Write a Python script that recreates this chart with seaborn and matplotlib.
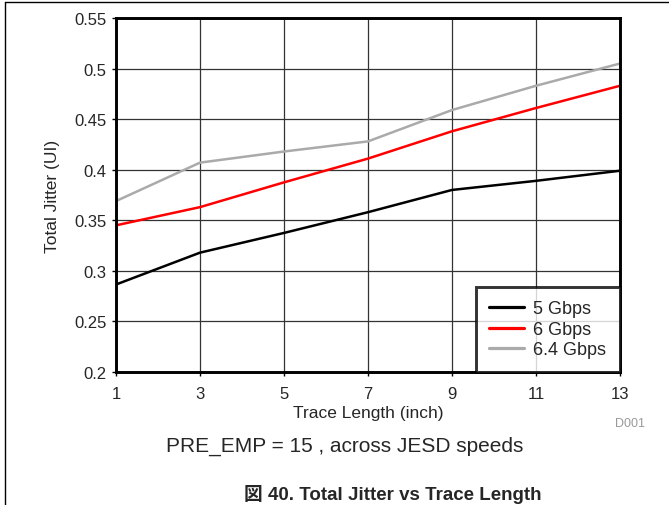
import pandas as pd
import seaborn as sns
import matplotlib.pyplot as plt
from matplotlib.lines import Line2D

# valores
trace_len = [1, 3, 5, 7, 9, 11, 13]
jitter_5g = [0.2865, 0.318, 0.3375, 0.358, 0.380, 0.389, 0.399]
jitter_6g = [0.345, 0.363, 0.3875, 0.411, 0.438, 0.461, 0.483]
jitter_64g = [0.369, 0.407, 0.418, 0.428, 0.459, 0.483, 0.505]
series = ['5 Gbps', '6 Gbps', '6.4 Gbps']
colors = ['#000000', '#ff0000', '#aaaaaa']
x_ticks = [1, 3, 5, 7, 9, 11, 13]
y_ticks = [0.2, 0.25, 0.3, 0.35, 0.4, 0.45, 0.5, 0.55]
y_ticklabels = ['0.2', '0.25', '0.3', '0.35', '0.4', '0.45', '0.5', '0.55']

df = pd.DataFrame({
    'trace': trace_len * 3,
    'jitter': jitter_5g + jitter_6g + jitter_64g,
    'speed': [s for s in series for _ in trace_len],
})

sns.set_style('white')
plt.rcParams['font.family'] = ['Liberation Sans', 'Noto Sans CJK JP', 'DejaVu Sans']

fig = plt.figure(figsize=(6.69, 5.06), dpi=100)
ax = fig.add_axes([116 / 669, 1 - 373 / 506, 504 / 669, 354 / 506])

sns.lineplot(data=df, x='trace', y='jitter', hue='speed', palette=colors,
             linewidth=1.8, ax=ax, zorder=3)

ax.set_xlim(1, 13)
ax.set_ylim(0.2, 0.55)
ax.set_xticks(x_ticks)
ax.set_yticks(y_ticks)
ax.set_yticklabels(y_ticklabels)
ax.grid(True, color='#333333', linewidth=0.9)
ax.tick_params(axis='both', labelsize=12, length=3, width=1, color='black',
               direction='out', left=True, bottom=True)
ax.tick_params(axis='x', pad=7)
ax.tick_params(axis='y', pad=4)
for sp in ax.spines.values():
    sp.set_color('black')
    sp.set_linewidth(2.1)
    sp.set_zorder(5)

ax.set_xlabel('Trace Length (inch)', fontsize=12.5, labelpad=3)
ax.set_ylabel('Total Jitter (UI)', fontsize=12.5, labelpad=10)

leg = ax.legend(loc='lower right', fontsize=13, frameon=True, fancybox=False,
                borderaxespad=0, handlelength=1.95, labelspacing=0.2,
                borderpad=0.75, handletextpad=0.5)
leg.get_frame().set_edgecolor('black')
leg.get_frame().set_linewidth(2.1)
for h in leg.get_lines():
    h.set_linewidth(2.3)

fig.text(630 / 669, 1 - 424 / 506, 'D001', fontsize=9, color='#999999',
         ha='center', va='center')
fig.text(345 / 669, 1 - 446 / 506, 'PRE_EMP = 15 , across JESD speeds',
         fontsize=15, ha='center', va='center')
fig.text(393 / 669, 1 - 495 / 506, '図 40. Total Jitter vs Trace Length',
         fontsize=13.5, fontweight='bold', ha='center', va='center')

# moldura externa (esquerda e topo)
x0 = 5 / 669
y0 = 1 - 3 / 506
fig.add_artist(Line2D([x0, x0], [0, y0], color='black', linewidth=1))
fig.add_artist(Line2D([x0, 1], [y0, y0], color='black', linewidth=1))

fig.savefig('out.png', dpi=100)
